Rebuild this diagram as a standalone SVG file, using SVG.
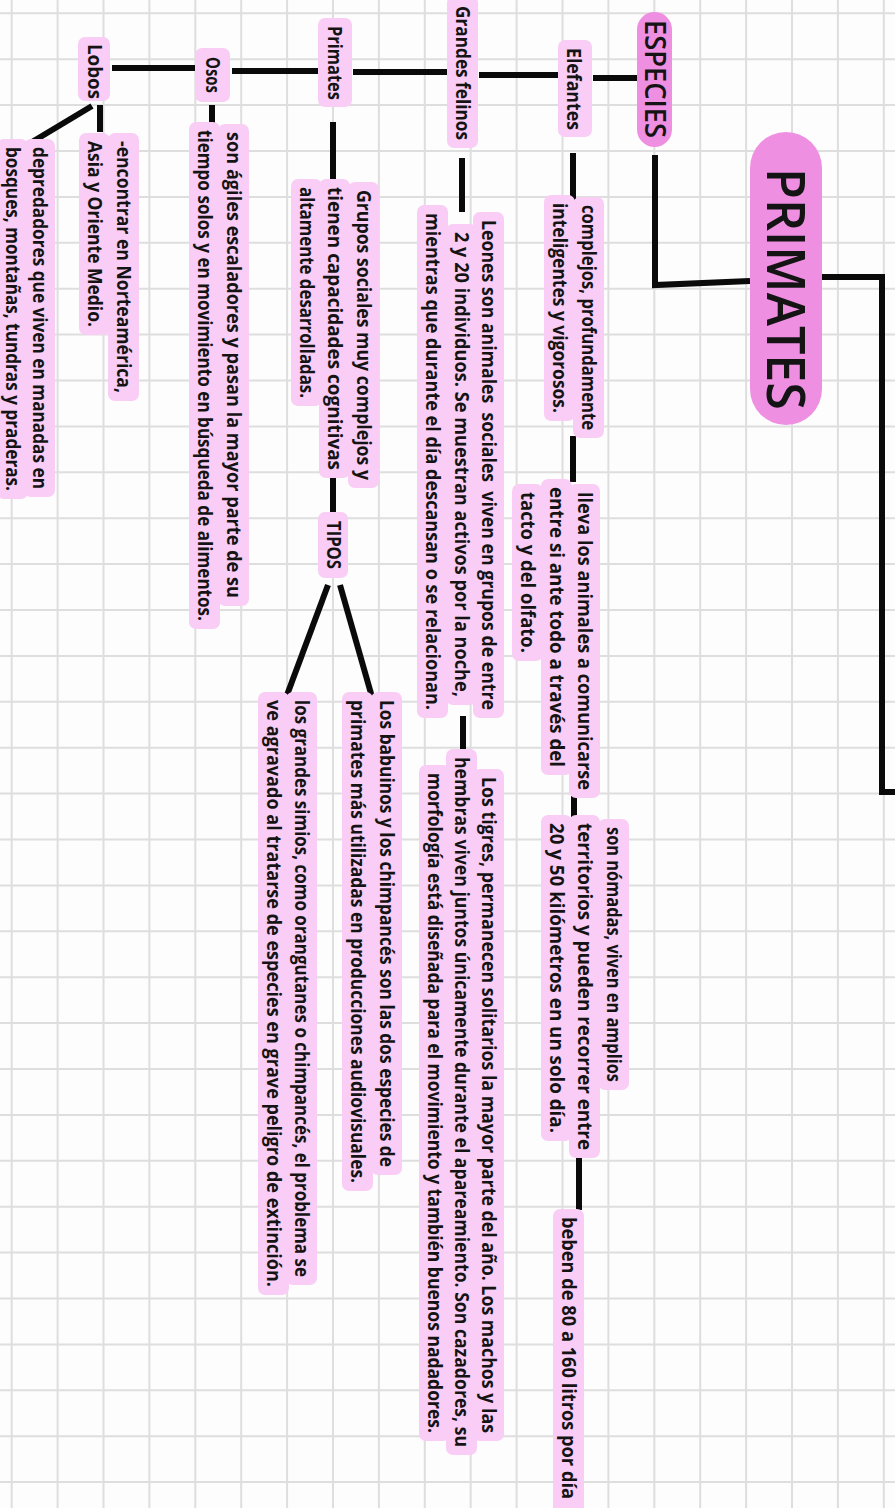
<svg xmlns="http://www.w3.org/2000/svg" width="895" height="1508" viewBox="0 0 895 1508">
<style>
.grid{stroke:#dedede;stroke-width:2;fill:none}
.hl{fill:#f9cdf5}
.pill{fill:#ef8fe2}
.t{font-family:"Open Sans","Liberation Sans",sans-serif;font-weight:700;font-size:19.5px;fill:#141414;white-space:pre}
.big{font-family:"Open Sans","Liberation Sans",sans-serif;font-weight:600;fill:#141414}
.c{stroke:#0a0a0a;stroke-width:6;fill:none;stroke-linecap:butt;stroke-linejoin:miter}
</style>
<rect width="895" height="1508" fill="#fdfdfd"/>
<path class="grid" d="M11.7 0V1508M57.6 0V1508M103.5 0V1508M149.4 0V1508M195.3 0V1508M241.2 0V1508M287.1 0V1508M333 0V1508M378.9 0V1508M424.8 0V1508M470.7 0V1508M516.6 0V1508M562.5 0V1508M608.4 0V1508M654.3 0V1508M700.2 0V1508M746.1 0V1508M792 0V1508M837.9 0V1508M883.8 0V1508M0 13.3H895M0 59.2H895M0 105.1H895M0 151H895M0 196.9H895M0 242.8H895M0 288.7H895M0 334.6H895M0 380.5H895M0 426.4H895M0 472.3H895M0 518.2H895M0 564.1H895M0 610H895M0 655.9H895M0 701.8H895M0 747.7H895M0 793.6H895M0 839.5H895M0 885.4H895M0 931.3H895M0 977.2H895M0 1023.1H895M0 1069H895M0 1114.9H895M0 1160.8H895M0 1206.7H895M0 1252.6H895M0 1298.5H895M0 1344.4H895M0 1390.3H895M0 1436.2H895M0 1482.1H895"/>

<g id="connectors">
<path class="c" d="M593 78H637"/>
<path class="c" d="M479 75H558"/>
<path class="c" d="M353 72H447"/>
<path class="c" d="M232 71H318"/>
<path class="c" d="M112 68H195"/>
<path class="c" d="M655 155V285L750 281"/>
<path class="c" d="M822 277H882V792H895"/>
<path class="c" d="M573 153V200"/>
<path class="c" d="M573 436V482"/>
<path class="c" d="M574 772V822"/>
<path class="c" d="M579 1156V1210"/>
<path class="c" d="M462 158V212"/>
<path class="c" d="M463 716V760"/>
<path class="c" d="M333 122V190"/>
<path class="c" d="M333 476V512"/>
<path class="c" d="M340 585L372 697"/>
<path class="c" d="M328 585L287 695"/>
<path class="c" d="M212 105V133"/>
<path class="c" d="M100 105V132"/>
<path class="c" d="M92 106L27 145"/>
</g>

<g id="primates-title">
<rect class="pill" x="750" y="132" width="72" height="293" rx="36"/>
<text class="big" font-size="53" transform="translate(767 168) rotate(90)" textLength="242" lengthAdjust="spacingAndGlyphs">PRIMATES</text>
</g>
<g id="especies">
<rect class="pill" x="637" y="12" width="35" height="135" rx="17.5"/>
<text class="big" font-size="29" transform="translate(645 20) rotate(90)" textLength="118" lengthAdjust="spacingAndGlyphs">ESPECIES</text>
</g>
<g id="elefantes">
<rect class="hl" x="558" y="40" width="34" height="97" rx="7"/>
<text class="t" transform="translate(567 48) rotate(90)" textLength="82" lengthAdjust="spacingAndGlyphs">Elefantes</text>
</g>
<g id="grandes-felinos">
<rect class="hl" x="447" y="-4" width="31" height="152" rx="7"/>
<text class="t" transform="translate(456 6) rotate(90)" textLength="134" lengthAdjust="spacingAndGlyphs">Grandes felinos</text>
</g>
<g id="primates">
<rect class="hl" x="318" y="18" width="34" height="89" rx="7"/>
<text class="t" transform="translate(328 26) rotate(90)" textLength="74" lengthAdjust="spacingAndGlyphs">Primates</text>
</g>
<g id="osos">
<rect class="hl" x="195" y="48" width="35" height="54" rx="7"/>
<text class="t" transform="translate(206 57) rotate(90)" textLength="36" lengthAdjust="spacingAndGlyphs">Osos</text>
</g>
<g id="lobos">
<rect class="hl" x="78" y="37" width="32" height="64" rx="7"/>
<text class="t" transform="translate(88 44) rotate(90)" textLength="55" lengthAdjust="spacingAndGlyphs">Lobos</text>
</g>
<g id="tipos">
<rect class="hl" x="318" y="512" width="30" height="66" rx="7"/>
<text class="t" transform="translate(327 521) rotate(90)" textLength="48" lengthAdjust="spacingAndGlyphs">TIPOS</text>
</g>

<g id="elefantes-1">
<rect class="hl" x="573" y="197" width="31" height="241" rx="7"/>
<rect class="hl" x="544" y="195" width="31" height="226" rx="7"/>
<text class="t" transform="translate(582 205) rotate(90)" textLength="225" lengthAdjust="spacingAndGlyphs">complejos, profundamente</text>
<text class="t" transform="translate(553 203) rotate(90)" textLength="210" lengthAdjust="spacingAndGlyphs">inteligentes y vigorosos.</text>
</g>
<g id="elefantes-2">
<rect class="hl" x="569" y="484" width="31" height="314" rx="7"/>
<rect class="hl" x="541" y="479" width="31" height="296" rx="7"/>
<rect class="hl" x="512" y="484" width="31" height="177" rx="7"/>
<text class="t" transform="translate(578 492) rotate(90)" textLength="298" lengthAdjust="spacingAndGlyphs">lleva los animales a comunicarse</text>
<text class="t" transform="translate(550 487) rotate(90)" textLength="280" lengthAdjust="spacingAndGlyphs">entre si ante todo a través del</text>
<text class="t" transform="translate(521 492) rotate(90)" textLength="161" lengthAdjust="spacingAndGlyphs">tacto y del olfato.</text>
</g>
<g id="elefantes-3">
<rect class="hl" x="598" y="819" width="31" height="271" rx="7"/>
<rect class="hl" x="569" y="815" width="31" height="343" rx="7"/>
<rect class="hl" x="541" y="815" width="31" height="326" rx="7"/>
<text class="t" transform="translate(607 827) rotate(90)" textLength="255" lengthAdjust="spacingAndGlyphs">son nómadas, viven en amplios</text>
<text class="t" transform="translate(578 823) rotate(90)" textLength="327" lengthAdjust="spacingAndGlyphs">territorios y pueden recorrer entre</text>
<text class="t" transform="translate(550 823) rotate(90)" textLength="310" lengthAdjust="spacingAndGlyphs">20 y 50 kilómetros en un solo día.</text>
</g>
<g id="elefantes-4">
<rect class="hl" x="553" y="1209" width="31" height="310" rx="7"/>
<text class="t" transform="translate(562 1217) rotate(90)" textLength="282" lengthAdjust="spacingAndGlyphs">beben de 80 a 160 litros por día</text>
</g>

<g id="felinos-1">
<rect class="hl" x="473" y="212" width="31" height="506" rx="7"/>
<rect class="hl" x="446" y="224" width="31" height="481" rx="7"/>
<rect class="hl" x="417" y="205" width="31" height="513" rx="7"/>
<text class="t" transform="translate(482 220) rotate(90)" textLength="490" lengthAdjust="spacingAndGlyphs">Leones son animales  sociales  viven en grupos de entre</text>
<text class="t" transform="translate(455 232) rotate(90)" textLength="465" lengthAdjust="spacingAndGlyphs">2 y 20 individuos. Se muestran activos por la noche,</text>
<text class="t" transform="translate(426 213) rotate(90)" textLength="497" lengthAdjust="spacingAndGlyphs">mientras que durante el día descansan o se relacionan.</text>
</g>
<g id="felinos-2">
<rect class="hl" x="473" y="769" width="31" height="672" rx="7"/>
<rect class="hl" x="446" y="749" width="31" height="706" rx="7"/>
<rect class="hl" x="419" y="765" width="31" height="676" rx="7"/>
<text class="t" transform="translate(482 777) rotate(90)" textLength="656" lengthAdjust="spacingAndGlyphs">Los tigres, permanecen solitarios la mayor parte del año. Los machos y las</text>
<text class="t" transform="translate(455 757) rotate(90)" textLength="690" lengthAdjust="spacingAndGlyphs">hembras viven juntos únicamente durante el apareamiento. Son cazadores, su</text>
<text class="t" transform="translate(428 773) rotate(90)" textLength="660" lengthAdjust="spacingAndGlyphs">morfología está diseñada para el movimiento y también buenos nadadores.</text>
</g>

<g id="primates-1">
<rect class="hl" x="348" y="182" width="31" height="306" rx="7"/>
<rect class="hl" x="319" y="179" width="31" height="299" rx="7"/>
<rect class="hl" x="291" y="179" width="31" height="227" rx="7"/>
<text class="t" transform="translate(357 190) rotate(90)" textLength="290" lengthAdjust="spacingAndGlyphs">Grupos sociales muy complejos y</text>
<text class="t" transform="translate(328 187) rotate(90)" textLength="283" lengthAdjust="spacingAndGlyphs">tienen capacidades cognitivas</text>
<text class="t" transform="translate(300 187) rotate(90)" textLength="211" lengthAdjust="spacingAndGlyphs">altamente desarrolladas.</text>
</g>
<g id="tipos-1">
<rect class="hl" x="371" y="692" width="31" height="483" rx="7"/>
<rect class="hl" x="342" y="692" width="31" height="499" rx="7"/>
<text class="t" transform="translate(380 700) rotate(90)" textLength="467" lengthAdjust="spacingAndGlyphs">Los babuinos y los chimpancés son las dos especies de</text>
<text class="t" transform="translate(351 700) rotate(90)" textLength="483" lengthAdjust="spacingAndGlyphs">primates más utilizadas en producciones audiovisuales.</text>
</g>
<g id="tipos-2">
<rect class="hl" x="286" y="692" width="31" height="593" rx="7"/>
<rect class="hl" x="258" y="692" width="31" height="603" rx="7"/>
<text class="t" transform="translate(295 700) rotate(90)" textLength="577" lengthAdjust="spacingAndGlyphs">los grandes simios, como orangutanes o chimpancés, el problema se</text>
<text class="t" transform="translate(267 700) rotate(90)" textLength="587" lengthAdjust="spacingAndGlyphs">ve agravado al tratarse de especies en grave peligro de extinción.</text>
</g>

<g id="osos-1">
<rect class="hl" x="218" y="124" width="31" height="482" rx="7"/>
<rect class="hl" x="189" y="122" width="31" height="507" rx="7"/>
<text class="t" transform="translate(227 132) rotate(90)" textLength="466" lengthAdjust="spacingAndGlyphs">son ágiles escaladores y pasan la mayor parte de su</text>
<text class="t" transform="translate(198 130) rotate(90)" textLength="491" lengthAdjust="spacingAndGlyphs">tiempo solos y en movimiento en búsqueda de alimentos.</text>
</g>
<g id="lobos-1">
<rect class="hl" x="108" y="133" width="31" height="268" rx="7"/>
<rect class="hl" x="79" y="133" width="31" height="202" rx="7"/>
<text class="t" transform="translate(117 141) rotate(90)" textLength="252" lengthAdjust="spacingAndGlyphs">-encontrar en Norteamérica,</text>
<text class="t" transform="translate(88 141) rotate(90)" textLength="186" lengthAdjust="spacingAndGlyphs">Asia y Oriente Medio.</text>
</g>
<g id="lobos-2">
<rect class="hl" x="24" y="139" width="31" height="358" rx="7"/>
<rect class="hl" x="-3" y="139" width="31" height="360" rx="7"/>
<text class="t" transform="translate(33 147) rotate(90)" textLength="342" lengthAdjust="spacingAndGlyphs">depredadores que viven en manadas en</text>
<text class="t" transform="translate(6 147) rotate(90)" textLength="344" lengthAdjust="spacingAndGlyphs">bosques, montañas, tundras y praderas.</text>
</g>
</svg>
